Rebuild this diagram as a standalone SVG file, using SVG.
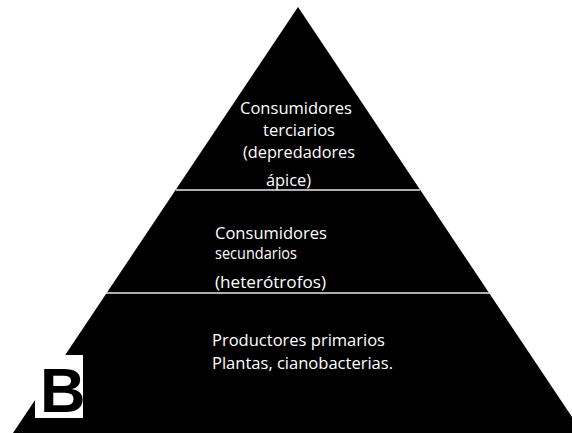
<svg xmlns="http://www.w3.org/2000/svg" width="572" height="433" viewBox="0 0 572 433">
<style>
.t{font-family:"Open Sans","Liberation Sans",Arial,sans-serif;font-size:16px;fill:#ffffff}
.sep{stroke:#e8e8e8;stroke-width:1.6;fill:none}
</style>
<rect x="0" y="0" width="572" height="433" fill="#ffffff"/>
<g id="pyramid">
<polygon points="298,7 13,433 572,433 572,417" fill="#000000"/>
</g>
<g id="connectors">
<line class="sep" x1="176" y1="190" x2="420" y2="190"/>
<line class="sep" x1="106" y1="293" x2="490" y2="293"/>
</g>
<g id="level-top">
<text class="t" x="240" y="114" textLength="112" lengthAdjust="spacingAndGlyphs">Consumidores</text>
<text class="t" x="263" y="136" textLength="72" lengthAdjust="spacingAndGlyphs">terciarios</text>
<text class="t" x="243" y="158" textLength="112" lengthAdjust="spacingAndGlyphs">(depredadores</text>
<text class="t" x="266" y="186" textLength="45" lengthAdjust="spacingAndGlyphs">ápice)</text>
</g>
<g id="level-middle">
<text class="t" x="215" y="239" textLength="112" lengthAdjust="spacingAndGlyphs">Consumidores</text>
<text class="t" x="215" y="259" textLength="82" lengthAdjust="spacingAndGlyphs">secundarios</text>
<text class="t" x="215" y="288" textLength="111" lengthAdjust="spacingAndGlyphs">(heterótrofos)</text>
</g>
<g id="level-bottom">
<text class="t" x="212" y="346" textLength="173" lengthAdjust="spacingAndGlyphs">Productores primarios</text>
<text class="t" x="212" y="369" textLength="181" lengthAdjust="spacingAndGlyphs">Plantas, cianobacterias.</text>
</g>
<g id="label-b">
<rect x="35" y="355" width="48" height="63" fill="#ffffff"/>
<text x="40" y="412" font-family="Liberation Sans,Arial,sans-serif" font-weight="bold" font-size="63" fill="#000000">B</text>
</g>
</svg>
